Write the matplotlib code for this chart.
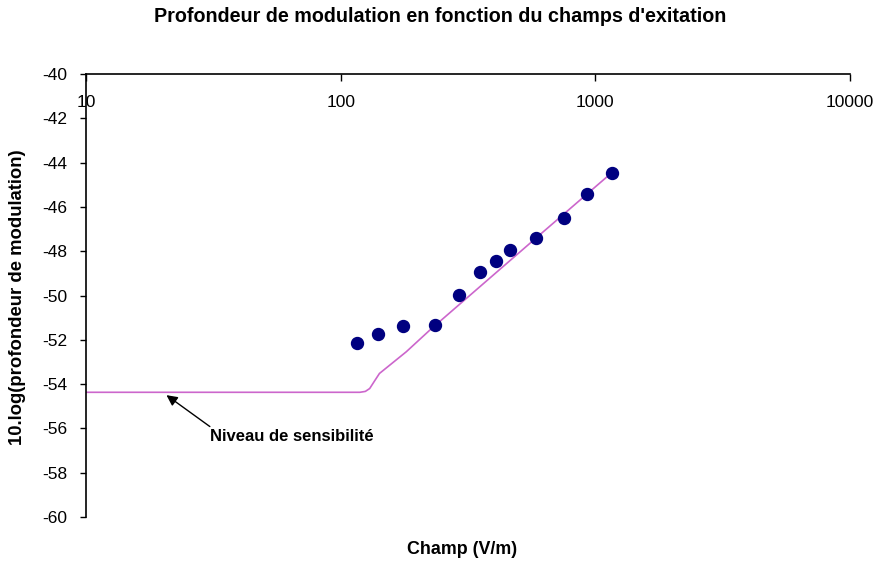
import matplotlib
matplotlib.use("Agg")
import matplotlib.pyplot as plt
from matplotlib.ticker import FixedLocator, NullLocator, FixedFormatter

plt.rcParams['font.family'] = ['Liberation Sans', 'DejaVu Sans']

# Measured points
champ = [116, 140, 175, 234, 291, 351, 409, 464, 587, 751, 930, 1167]
profondeur = [-52.13, -51.73, -51.38, -51.32, -49.99, -48.95, -48.43, -47.94,
              -47.39, -46.50, -45.42, -44.48]

# Sensitivity / model curve
courbe_x = [10, 119, 125, 130, 136, 142, 181, 224, 587, 1159]
courbe_y = [-54.37, -54.37, -54.33, -54.20, -53.85, -53.52, -52.54, -51.56, -47.39, -44.46]

x_ticks = [10, 100, 1000, 10000]
x_tick_labels = ["10", "100", "1000", "10000"]
y_ticks = list(range(-60, -39, 2))

fig = plt.figure(figsize=(8.76, 5.65), dpi=100)
ax = fig.add_axes([86 / 876, 1 - 517 / 565, (850 - 86) / 876, (517 - 74) / 565])

ax.plot(courbe_x, courbe_y, color='#cc66cc', lw=1.2, zorder=2)
ax.plot(champ, profondeur, 'o', color='#000080', ms=8.6, mec='#000080', zorder=3)

ax.set_xscale('log')
ax.set_xlim(10, 10000)
ax.set_ylim(-60, -40)

ax.xaxis.set_major_locator(FixedLocator(x_ticks))
ax.xaxis.set_major_formatter(FixedFormatter(x_tick_labels))
ax.xaxis.set_minor_locator(NullLocator())
ax.xaxis.tick_top()
ax.tick_params(axis='x', which='major', direction='in', length=5, width=1,
               pad=-26, labelsize=12.5, top=True, bottom=False,
               labeltop=True, labelbottom=False)

ax.set_yticks(y_ticks)
ax.set_yticklabels([str(v) for v in y_ticks])
ax.tick_params(axis='y', direction='out', length=4, width=1, pad=9.5, labelsize=12.5)

for s in ['right', 'bottom']:
    ax.spines[s].set_visible(False)
for s in ['left', 'top']:
    ax.spines[s].set_linewidth(1.2)

fig.text(440 / 876, 1 - 16 / 565, "Profondeur de modulation en fonction du champs d'exitation",
         ha='center', va='center', fontsize=14.2, fontweight='bold')
fig.text(18 / 876, 1 - 297 / 565, "10.log(profondeur de modulation)",
         ha='center', va='center', rotation=90, fontsize=13.3, fontweight='bold')
fig.text(462 / 876, 1 - 549 / 565, "Champ (V/m)",
         ha='center', va='center', fontsize=12.9, fontweight='bold')

ax.annotate("Niveau de sensibilité", xy=(20.7, -54.5), xytext=(30.8, -56.38),
            ha='left', va='center', fontsize=12, fontweight='bold',
            arrowprops=dict(arrowstyle='-|>', color='black', lw=1,
                            mutation_scale=16, shrinkA=0, shrinkB=0,
                            relpos=(0.02, 1.0)))

fig.savefig("out.png", dpi=100)
